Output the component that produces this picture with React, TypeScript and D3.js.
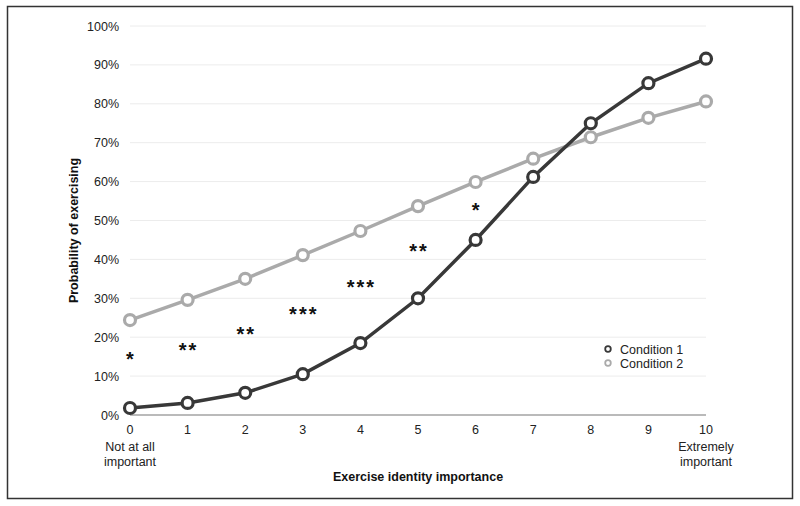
import React from "react";
import * as d3 from "d3";

const xValues = [0, 1, 2, 3, 4, 5, 6, 7, 8, 9, 10];
const condition1 = [1.8, 3.1, 5.7, 10.5, 18.5, 30.0, 45.0, 61.2, 75.0, 85.3, 91.6];
const condition2 = [24.4, 29.6, 35.0, 41.1, 47.3, 53.7, 59.9, 65.9, 71.4, 76.4, 80.6];
const yTicks = [0, 10, 20, 30, 40, 50, 60, 70, 80, 90, 100];
const starIdx = [0, 1, 2, 3, 4, 5, 6];
const starLabels = ["*", "**", "**", "***", "***", "**", "*"];
const starLevels = [14.8, 17.3, 21.4, 26.5, 33.3, 42.8, 53.2];
const seriesNames = ["Condition 1", "Condition 2"];

const W = 800, H = 506;
const x = d3.scaleLinear().domain([0, 10]).range([130, 706]);
const y = d3.scaleLinear().domain([0, 100]).range([415, 26]);
const dark = "#383838";
const light = "#aaaaaa";
const font = "Liberation Sans, Arial, Helvetica, sans-serif";

export default function App() {
  const line = d3.line<number>().x((_, i) => x(xValues[i])).y((d) => y(d));
  const series = [
    { vals: condition2, color: light },
    { vals: condition1, color: dark },
  ];
  return (
    <svg width={W} height={H} style={{ position: "absolute", left: 0, top: 0 }} fontFamily={font}>
      <rect x={0} y={0} width={W} height={H} fill="#fff" />
      <rect x={7.5} y={6.5} width={785} height={492} fill="none" stroke="#333" strokeWidth={1.5} />
      {yTicks.map((t) => (
        <g key={t}>
          {t > 0 && <line x1={130} x2={706} y1={y(t)} y2={y(t)} stroke="#ececec" strokeWidth={1} />}
          <text x={119} y={y(t) + 4.5} textAnchor="end" fontSize={12.5} fill="#222">{t}%</text>
        </g>
      ))}
      <line x1={130} x2={706} y1={y(0)} y2={y(0)} stroke="#777" strokeWidth={1.2} />
      {xValues.map((v) => (
        <text key={v} x={x(v)} y={434} textAnchor="middle" fontSize={12.5} fill="#222">{v}</text>
      ))}
      <text x={x(0)} y={451} textAnchor="middle" fontSize={12.5} fill="#222">Not at all</text>
      <text x={x(0)} y={466} textAnchor="middle" fontSize={12.5} fill="#222">important</text>
      <text x={x(10)} y={451} textAnchor="middle" fontSize={12.5} fill="#222">Extremely</text>
      <text x={x(10)} y={466} textAnchor="middle" fontSize={12.5} fill="#222">important</text>
      <text x={418} y={481} textAnchor="middle" fontSize={12.5} fontWeight="bold" fill="#111">Exercise identity importance</text>
      <text transform={`translate(78,${(y(0) + y(100)) / 2 + 10}) rotate(-90)`} textAnchor="middle" fontSize={12.5} fontWeight="bold" fill="#111">Probability of exercising</text>
      {starIdx.map((i, k) => (
        <text key={i} x={x(xValues[i]) + 1} y={y(starLevels[k]) + 9} textAnchor="middle" fontSize={20} fontWeight="bold" fill="#111" letterSpacing={2}>{starLabels[k]}</text>
      ))}
      {series.map((s, si) => (
        <g key={si}>
          <path d={line(s.vals) || ""} fill="none" stroke={s.color} strokeWidth={3.5} />
          {s.vals.map((v, i) => (
            <circle key={i} cx={x(xValues[i])} cy={y(v)} r={5.5} fill="#fff" stroke={s.color} strokeWidth={3.2} />
          ))}
        </g>
      ))}
      {seriesNames.map((n, i) => (
        <g key={n}>
          <circle cx={608} cy={349 + i * 14} r={2.8} fill="#fff" stroke={i === 0 ? dark : light} strokeWidth={1.8} />
          <text x={620} y={353.5 + i * 14} fontSize={12.5} fill="#222">{n}</text>
        </g>
      ))}
    </svg>
  );
}
